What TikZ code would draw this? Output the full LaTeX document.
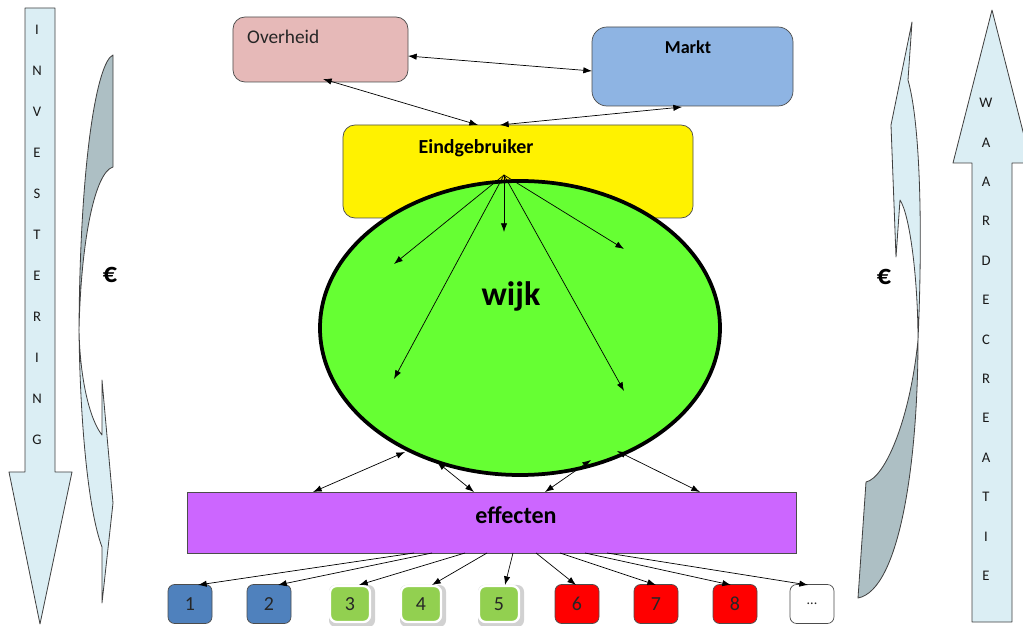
\documentclass[tikz,border=0pt]{standalone}
\usepackage{fontspec}
\setmainfont{Carlito}
\usetikzlibrary{arrows.meta,shapes.geometric}
\newcommand{\fsz}[1]{\fontsize{#1}{#1}\selectfont}
\definecolor{arrowblue}{HTML}{DBEEF4}
\definecolor{arrowgrey}{HTML}{ADBFC4}
\definecolor{ovpink}{HTML}{E6B9B8}
\definecolor{mkblue}{HTML}{8EB4E3}
\definecolor{wijkgreen}{HTML}{66FF33}
\definecolor{effpurple}{HTML}{CC66FF}
\definecolor{bblue}{HTML}{4F81BD}
\definecolor{bgreen}{HTML}{92D050}
\definecolor{bred}{HTML}{FF0000}
\begin{document}
\begin{tikzpicture}[x=0.03cm,y=-0.03cm,
  shapeline/.style={draw=black!75, line width=0.7pt, line join=round},
  box/.style={draw=black!70, line width=0.6pt, inner sep=0pt},
  smallbox/.style={box, rounded corners=0.2cm, minimum width=1.32cm, minimum height=1.17cm, font=\fsz{17}, text=black!85},
  glowbox/.style={smallbox, fill=bgreen, draw=white, line width=2pt, minimum width=1.2cm, minimum height=1.08cm},
  glowshade/.style={fill=black!18, rounded corners=0.2cm, minimum width=1.38cm, minimum height=1.26cm, inner sep=0pt},
  letter/.style={font=\fsz{12.5}, text=black!90, inner sep=0pt},
  oneway/.style={line width=0.6pt, -{Latex[length=2.6mm,width=1.9mm]}},
  twoway/.style={line width=0.6pt, {Latex[length=2.6mm,width=1.9mm]}-{Latex[length=2.6mm,width=1.9mm]}},
  euro/.style={font=\bfseries\fsz{24}, inner sep=0pt}
]
\useasboundingbox (0,0) rectangle (1023,626);
\clip (0,0) rectangle (1023,626);

% ---------- left straight arrow (INVESTERING) ----------
\path[shapeline, fill=arrowblue] (25,8) -- (55,8) -- (55,472) -- (72,472) -- (40,624) -- (9,472) -- (25,472) -- cycle;
\foreach \c [count=\i] in {I,N,V,E,S,T,E,R,I,N,G} {
  \node[letter] (l\i) at (37,{30+41*(\i-1)}) {\c};
}

% ---------- right straight arrow (WAARDECREATIE) ----------
\path[shapeline, fill=arrowblue] (972,622) -- (972,163) -- (953,163) -- (992,10) -- (1031,163) -- (1012,163) -- (1012,622) -- cycle;
\foreach \c [count=\i] in {W,A,A,R,D,E,C,R,E,A,T,I,E} {
  \node[letter] (r\i) at (986,{103+39.4*(\i-1)}) {\c};
}

% ---------- left curved arrow ----------
\path[shapeline, fill=arrowgrey] (113,55) .. controls (97,62) and (80,160) .. (79,330)
   .. controls (81,240) and (95,172) .. (113,167) -- cycle;
\path[shapeline, fill=arrowblue] (79,330) .. controls (80,420) and (88,510) .. (102,547)
   -- (102,603) -- (113,503) -- (102,380) -- (102,435)
   .. controls (90,420) and (80,380) .. (79,330) -- cycle;
\node[euro] (eurol) at (110,275) {€};

% ---------- right curved arrow ----------
\path[shapeline, fill=arrowblue] (912,22) -- (891,125) -- (896,257) -- (900,200)
   .. controls (910,215) and (918,280) .. (918,340)
   .. controls (922,250) and (922,130) .. (908,80) -- cycle;
\path[shapeline, fill=arrowgrey] (918,340) .. controls (918,460) and (900,590) .. (858,598)
   -- (866,482) .. controls (885,478) and (910,420) .. (918,340) -- cycle;
\node[euro] (euror) at (884,277) {€};

% ---------- main boxes ----------
\node[box, fill=ovpink, rounded corners=0.36cm, minimum width=5.25cm, minimum height=1.95cm] (ov) at (320.5,49.5) {};
\node[anchor=base west, font=\fsz{16.5}, text=black!85, inner sep=0pt] (tov) at (247,44) {Overheid};

\node[box, fill=mkblue, rounded corners=0.45cm, minimum width=6.03cm, minimum height=2.37cm] (mk) at (692.5,66.5) {};
\node[font=\bfseries\fsz{15.5}, inner sep=0pt] (tmk) at (688,47) {Markt};

\node[box, fill=yellow, rounded corners=0.36cm, minimum width=10.5cm, minimum height=2.79cm] (eg) at (518,171.5) {};
\node[font=\bfseries\fsz{17}, inner sep=0pt] (teg) at (476,148) {Eindgebruiker};

\node[ellipse, draw=black, line width=3.2pt, fill=wijkgreen, inner sep=0pt, minimum width=12cm, minimum height=8.82cm] (wk) at (520,328) {};
\node[font=\bfseries\fsz{29}, inner sep=0pt] (twk) at (511,296) {wijk};

\node[box, fill=effpurple, minimum width=18.27cm, minimum height=1.83cm] (ef) at (491.5,522.5) {};
\node[font=\bfseries\fsz{20.5}, inner sep=0pt] (tef) at (516,515) {effecten};

% ---------- small boxes ----------
\node[smallbox, fill=bblue] (b1) at (190,604) {1};
\node[smallbox, fill=bblue] (b2) at (269,604) {2};
\node[glowshade] (g3) at (352,606) {};
\node[glowshade] (g4) at (423,606) {};
\node[glowshade] (g5) at (501,606) {};
\node[glowbox] (b3) at (350,604) {3};
\node[glowbox] (b4) at (421,604) {4};
\node[glowbox] (b5) at (499,604) {5};
\node[smallbox, fill=bred] (b6) at (577,604) {6};
\node[smallbox, fill=bred] (b7) at (656,604) {7};
\node[smallbox, fill=bred] (b8) at (735,604) {8};
\node[smallbox, fill=white] (b9) at (812,604) {\fsz{12}...};

% ---------- connector end points ----------
\coordinate (ovE) at (408,56);
\coordinate (mkW) at (592,71);
\coordinate (ovS) at (323,79);
\coordinate (egN1) at (478,125);
\coordinate (mkS) at (682,107);
\coordinate (egN2) at (500,125);
\coordinate (fan) at (504,175);
\coordinate (w1) at (394,264);
\coordinate (w2) at (394,379);
\coordinate (w3) at (504,232);
\coordinate (w4) at (624,249);
\coordinate (w5) at (624,391);
\coordinate (wa) at (405,452);
\coordinate (wb) at (437,462);
\coordinate (wc) at (591,460);
\coordinate (wd) at (617,451);
\coordinate (ea) at (313,492);
\coordinate (eb) at (474,492);
\coordinate (ec) at (545,492);
\coordinate (ed) at (700,492);
\foreach \sx/\ex [count=\i] in {414/198, 432/278, 465/359, 487/432, 513/505, 536/576, 560/656, 585/731, 607/808} {
  \coordinate (s\i) at (\sx,553);
  \coordinate (t\i) at (\ex,585);
}

% ---------- connectors ----------
\draw[twoway] (ovE) -- (mkW);
\draw[twoway] (ovS) -- (egN1);
\draw[twoway] (mkS) -- (egN2);
\foreach \w in {w1,w2,w3,w4,w5} { \draw[oneway] (fan) -- (\w); }
\draw[twoway] (wa) -- (ea);
\draw[twoway] (wb) -- (eb);
\draw[twoway] (wc) -- (ec);
\draw[twoway] (wd) -- (ed);
\foreach \i in {1,...,9} { \draw[oneway] (s\i) -- (t\i); }
\end{tikzpicture}
\end{document}
